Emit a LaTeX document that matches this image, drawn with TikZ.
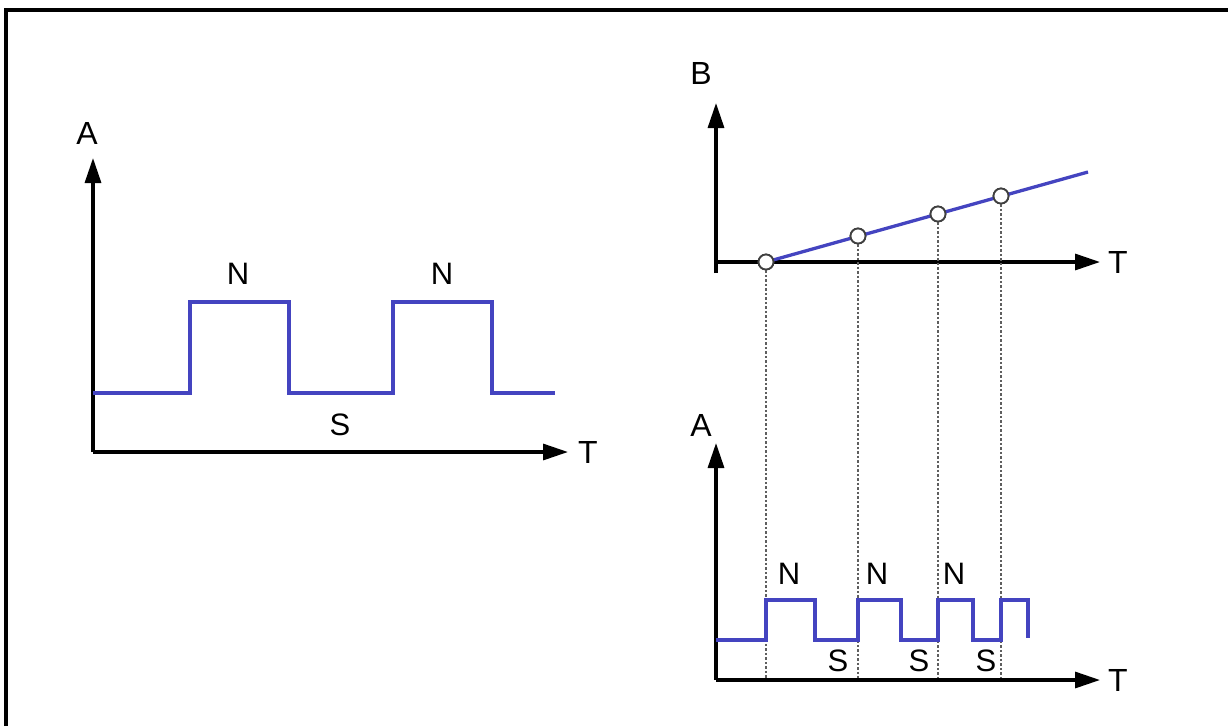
\documentclass[tikz,border=0pt]{standalone}
\usepackage{fontspec}
\setmainfont{Liberation Sans}
\usepackage{xcolor}
\usepackage{tikz}
\usetikzlibrary{arrows.meta,positioning}
\definecolor{waveblue}{RGB}{68,68,192}
\definecolor{guidegray}{RGB}{95,95,95}
\tikzset{
  axisline/.style={-{Triangle[length=25pt,width=16pt]},line width=3.2pt,draw=black},
  waveline/.style={line width=3.3pt,draw=waveblue,line join=miter},
  guideline/.style={dash pattern=on 2.2pt off 2.3pt,line width=2.6pt,draw=guidegray},
  sample/.style={circle,draw=black!75,fill=white,line width=1.8pt,minimum size=15pt,inner sep=0pt},
  axislabel/.style={font=\fontsize{32}{34}\selectfont,inner sep=0pt},
  polelabel/.style={font=\fontsize{31}{34}\selectfont,inner sep=0pt}
}
\begin{document}
\begin{tikzpicture}[x=1pt,y=-1pt]
    \useasboundingbox (0,0) rectangle (1228,726);
    \draw[line width=3.2pt] (6,726) -- (6,10) -- (1228,10);

    % left: fixed field
    \coordinate (origin) at (93,452);
    \coordinate (atop) at (93,158);
    \coordinate (tend) at (568,452);
    \draw[axisline] (origin) -- (atop);
    \draw[axisline] (origin) -- (tend);
    \node[axislabel] (alabel) at (87,133) {A};
    \node[axislabel,anchor=west] (tlabel) at (578,452) {T};
    \draw[waveline] (93,393) -- (190,393) -- (190,302) -- (289,302) -- (289,393)
      -- (393,393) -- (393,302) -- (492,302) -- (492,393) -- (555,393);
    \node[polelabel] (nfirst) at (238,274) {N};
    \node[polelabel] (nsecond) at (442,274) {N};
    \node[polelabel] (slow) at (340,425) {S};

    % right top: rising flux
    \coordinate (borigin) at (716,262);
    \coordinate (bbase) at (716,273);
    \coordinate (btop) at (716,103);
    \coordinate (bend) at (1100,262);
    \draw[axisline] (bbase) -- (btop);
    \draw[axisline] (borigin) -- (bend);
    \node[axislabel] (blabel) at (701,73) {B};
    \node[axislabel,anchor=west] (tblabel) at (1108,262) {T};

    % right bottom: switching output
    \coordinate (sorigin) at (716,680);
    \coordinate (stop) at (716,443);
    \coordinate (send) at (1100,680);
    \coordinate (q1) at (766,680);
    \coordinate (q2) at (858,680);
    \coordinate (q3) at (938,680);
    \coordinate (q4) at (1001,680);

    \node[sample] (p1) at (766,262) {};
    \node[sample] (p2) at (858,236) {};
    \node[sample] (p3) at (938,214) {};
    \node[sample] (p4) at (1001,196) {};
    \coordinate (rampend) at (1088,172);

    \draw[guideline] (p1) -- (q1);
    \draw[guideline] (p2) -- (q2);
    \draw[guideline] (p3) -- (q3);
    \draw[guideline] (p4) -- (q4);

    \draw[waveline] (p1.center) -- (rampend);
    \node[sample] at (p1) {};
    \node[sample] at (p2) {};
    \node[sample] at (p3) {};
    \node[sample] at (p4) {};

    \draw[axisline] (sorigin) -- (stop);
    \draw[axisline] (sorigin) -- (send);
    \node[axislabel] (aslabel) at (701,425) {A};
    \node[axislabel,anchor=west] (tslabel) at (1108,680) {T};
    \draw[waveline] (716,640) -- (766,640) -- (766,600) -- (815,600) -- (815,640)
      -- (858,640) -- (858,600) -- (901,600) -- (901,640) -- (938,640) -- (938,600)
      -- (973,600) -- (973,640) -- (1001,640) -- (1001,600) -- (1028,600) -- (1028,638);
    \node[polelabel] (n1) at (789,574) {N};
    \node[polelabel] (n2) at (877,574) {N};
    \node[polelabel] (n3) at (954,574) {N};
    \node[polelabel] (s1) at (838,661) {S};
    \node[polelabel] (s2) at (919,661) {S};
    \node[polelabel] (s3) at (986,661) {S};
\end{tikzpicture}
\end{document}
